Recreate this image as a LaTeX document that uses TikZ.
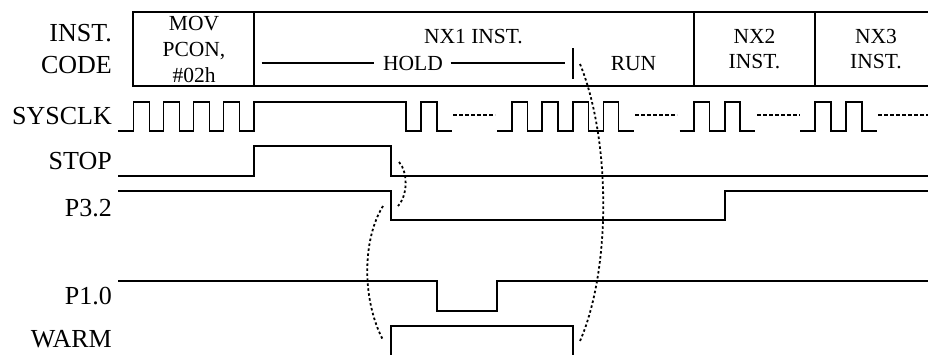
\documentclass[tikz,border=0pt]{standalone}
\usepackage{fontspec}
\setmainfont{Liberation Serif}
\begin{document}
\begin{tikzpicture}[x=1pt,y=-1pt,
  sig/.style={line width=1.8pt,line join=miter},
  lbl/.style={anchor=base east,inner sep=0pt,font=\fontsize{26}{30}\selectfont},
  btxt/.style={anchor=base,inner sep=0pt,font=\fontsize{21.5}{25.5}\selectfont},
  gap/.style={line width=1.6pt,dash pattern=on 3.5pt off 2.5pt},
  dotarc/.style={line width=1.8pt,dash pattern=on 2.5pt off 2.5pt}]
\useasboundingbox (0,0) rectangle (928,354);
% labels
\node[lbl] (l1) at (112,41) {INST.};
\node[lbl] (l2) at (112,73) {CODE};
\node[lbl] (l3) at (112,124) {SYSCLK};
\node[lbl] (l4) at (112,169) {STOP};
\node[lbl] (l5) at (112,216) {P3.2};
\node[lbl] (l6) at (112,304) {P1.0};
\node[lbl] (l7) at (112,347) {WARM};
% instruction box
\draw[sig] (928,11.7) -- (133.3,11.7) -- (133.3,86) -- (928,86);
\draw[sig] (254.3,11.7) -- (254.3,86);
\draw[sig] (694,11.7) -- (694,86);
\draw[sig] (815,11.7) -- (815,86);
\node[btxt] (m1) at (194,30.7) {MOV};
\node[btxt] (m2) at (194,56.4) {PCON,};
\node[btxt] (m3) at (194,82) {\#02h};
\node[btxt] (nx1) at (473.5,43.3) {NX1 INST.};
\node[btxt] (hold) at (413,70) {HOLD};
\node[btxt] (run) at (633.5,70) {RUN};
\node[btxt] (nx2a) at (754.5,43.3) {NX2};
\node[btxt] (nx2b) at (754.5,68.3) {INST.};
\node[btxt] (nx3a) at (876,43.3) {NX3};
\node[btxt] (nx3b) at (876,68.3) {INST.};
\draw[line width=1.7pt] (261.7,63.3) -- (374,63.3);
\draw[line width=1.7pt] (450.7,63.3) -- (565,63.3);
\draw[line width=1.7pt] (572.7,48.3) -- (572.7,79);
% SYSCLK
\draw[sig] (118,131) -- (133.5,131) -- (133.5,102) -- (149.5,102) -- (149.5,131) -- (163.5,131) -- (163.5,102) -- (179.5,102) -- (179.5,131) -- (193.5,131) -- (193.5,102) -- (209.5,102) -- (209.5,131) -- (223.5,131) -- (223.5,102) -- (239.5,102) -- (239.5,131) -- (254.3,131) -- (254.3,102) -- (406,102) -- (406,131) -- (421,131) -- (421,102) -- (437,102) -- (437,131) -- (452,131);
\draw[gap] (453,115) -- (495,115);
\draw[sig] (497,131) -- (512,131) -- (512,102) -- (527.5,102) -- (527.5,131) -- (542,131) -- (542,102) -- (558,102) -- (558,131) -- (573,131) -- (573,102) -- (588.5,102) -- (588.5,131) -- (603.5,131) -- (603.5,102) -- (618.5,102) -- (618.5,131) -- (633.5,131);
\draw[gap] (635,115) -- (677,115);
\draw[sig] (679.5,131) -- (694,131) -- (694,102) -- (709.5,102) -- (709.5,131) -- (725,131) -- (725,102) -- (740,102) -- (740,131) -- (755,131);
\draw[gap] (757,115) -- (800,115);
\draw[sig] (800,131) -- (815,131) -- (815,102) -- (830.7,102) -- (830.7,131) -- (846,131) -- (846,102) -- (861.7,102) -- (861.7,131) -- (876.7,131);
\draw[gap] (878,115) -- (928,115);
% STOP
\draw[sig] (118,176) -- (254.3,176) -- (254.3,145.7) -- (391,145.7) -- (391,176) -- (928,176);
% P3.2
\draw[sig] (118,191) -- (391,191) -- (391,220) -- (724.7,220) -- (724.7,191) -- (928,191);
% P1.0
\draw[sig] (118,280.7) -- (436.7,280.7) -- (436.7,310.7) -- (496.7,310.7) -- (496.7,280.7) -- (928,280.7);
% WARM
\draw[sig] (391,356) -- (391,325.7) -- (573,325.7) -- (573,356);
% dotted arcs
\coordinate (a1s) at (399,162);
\coordinate (a1e) at (398,206);
\coordinate (a2s) at (383,206);
\coordinate (a2e) at (383,340);
\coordinate (a3s) at (580,64);
\coordinate (a3e) at (580,341);
\draw[dotarc] (a1s) .. controls (408,172) and (408,195) .. (a1e);
\draw[dotarc] (a2s) .. controls (362,240) and (362,300) .. (a2e);
\draw[dotarc] (a3s) .. controls (611,140) and (611,270) .. (a3e);
\end{tikzpicture}
\end{document}
